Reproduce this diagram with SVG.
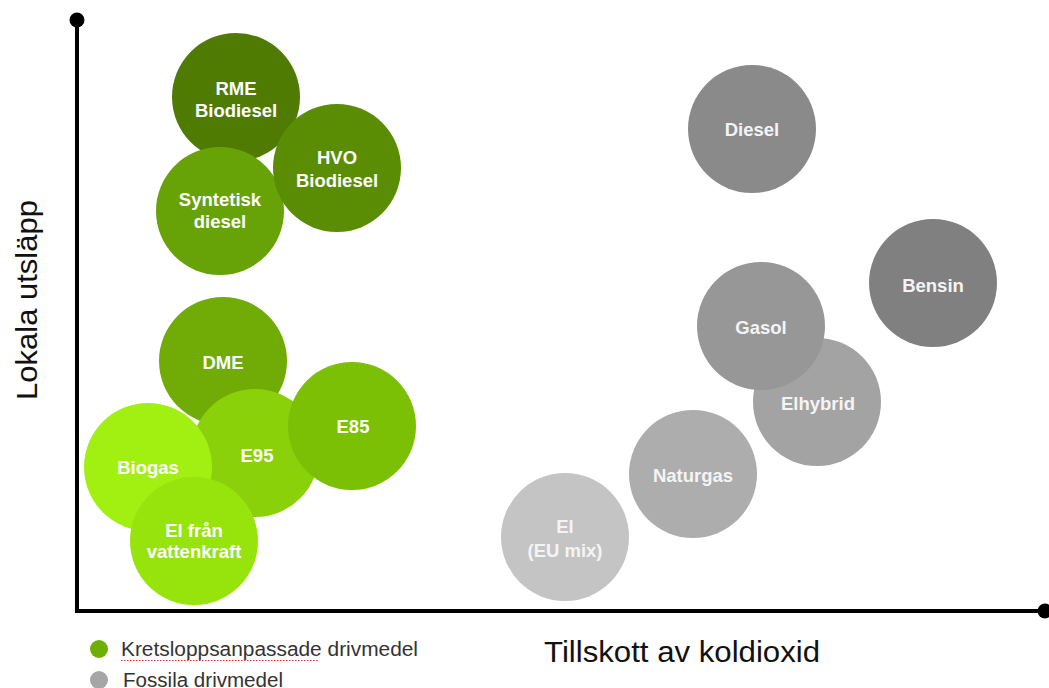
<svg xmlns="http://www.w3.org/2000/svg" width="1049" height="688" viewBox="0 0 1049 688">
<style>
.lbl{font-family:"Liberation Sans",Arial,sans-serif;font-weight:bold;font-size:18.5px;fill:#ffffff;text-anchor:middle}
.glbl{fill:#f4f4f4}
.axis{font-family:"Liberation Sans",Arial,sans-serif;font-size:29px;fill:#111111}
.leg{font-family:"Liberation Sans",Arial,sans-serif;font-size:20px;fill:#333333}
</style>
<rect width="1049" height="688" fill="#ffffff"/>
<g id="axes">
<line x1="77" y1="20" x2="77" y2="611" stroke="#000" stroke-width="4"/>
<line x1="75" y1="611" x2="1045" y2="611" stroke="#000" stroke-width="4"/>
<circle cx="77" cy="20" r="7.5" fill="#000"/>
<circle cx="1045" cy="611" r="7.5" fill="#000"/>
</g>
<g id="rme"><circle cx="236" cy="97" r="64" fill="#4f7b03"/><text class="lbl" x="236" y="95">RME</text><text class="lbl" x="236" y="117">Biodiesel</text></g>
<g id="syntetisk"><circle cx="220" cy="211" r="64" fill="#67a206"/><text class="lbl" x="220" y="206">Syntetisk</text><text class="lbl" x="220" y="228">diesel</text></g>
<g id="hvo"><circle cx="337" cy="168" r="64" fill="#5a8c04"/><text class="lbl" x="337" y="164">HVO</text><text class="lbl" x="337" y="187">Biodiesel</text></g>
<g id="dme"><circle cx="223" cy="361" r="64" fill="#70ac05"/><text class="lbl" x="223" y="369">DME</text></g>
<g id="e95"><circle cx="255" cy="453" r="64" fill="#8ad10a"/><text class="lbl" x="257" y="462">E95</text></g>
<g id="e85"><circle cx="352" cy="426" r="64" fill="#7cc005"/><text class="lbl" x="353" y="433">E85</text></g>
<g id="biogas"><circle cx="148" cy="467" r="64" fill="#a1f012"/><text class="lbl" x="148" y="474">Biogas</text></g>
<g id="el-vattenkraft"><circle cx="194" cy="541" r="64" fill="#96e40c"/><text class="lbl" x="194" y="537">El från</text><text class="lbl" x="194" y="558">vattenkraft</text></g>
<g id="diesel"><circle cx="752" cy="129" r="64" fill="#8a8a8a"/><text class="lbl glbl" x="752" y="136">Diesel</text></g>
<g id="bensin"><circle cx="933" cy="283" r="64" fill="#808080"/><text class="lbl glbl" x="933" y="292">Bensin</text></g>
<g id="elhybrid"><circle cx="817" cy="402" r="64" fill="#a3a3a3"/><text class="lbl glbl" x="818" y="410">Elhybrid</text></g>
<g id="gasol"><circle cx="761" cy="326" r="64" fill="#979797"/><text class="lbl glbl" x="761" y="334">Gasol</text></g>
<g id="naturgas"><circle cx="693" cy="474" r="64" fill="#adadad"/><text class="lbl glbl" x="693" y="482">Naturgas</text></g>
<g id="el-eumix"><circle cx="565" cy="537" r="64" fill="#c4c4c4"/><text class="lbl glbl" x="565" y="533">El</text><text class="lbl glbl" x="565" y="557">(EU mix)</text></g>
<g id="axis-labels">
<text class="axis" x="544" y="662" textLength="276" lengthAdjust="spacingAndGlyphs">Tillskott av koldioxid</text>
<text class="axis" transform="translate(37,400) rotate(-90)" textLength="200" lengthAdjust="spacingAndGlyphs">Lokala utsläpp</text>
</g>
<g id="legend">
<circle cx="99" cy="649" r="9" fill="#6fae05"/>
<text class="leg" x="121" y="656" textLength="297" lengthAdjust="spacingAndGlyphs">Kretsloppsanpassade drivmedel</text>
<path d="M121 660.5 L319 660.5" stroke="#e03030" stroke-width="1.2" stroke-dasharray="1.5 1.5"/>
<circle cx="99" cy="680" r="9" fill="#a6a6a6"/>
<text class="leg" x="123" y="687" textLength="160" lengthAdjust="spacingAndGlyphs">Fossila drivmedel</text>
</g>
</svg>
